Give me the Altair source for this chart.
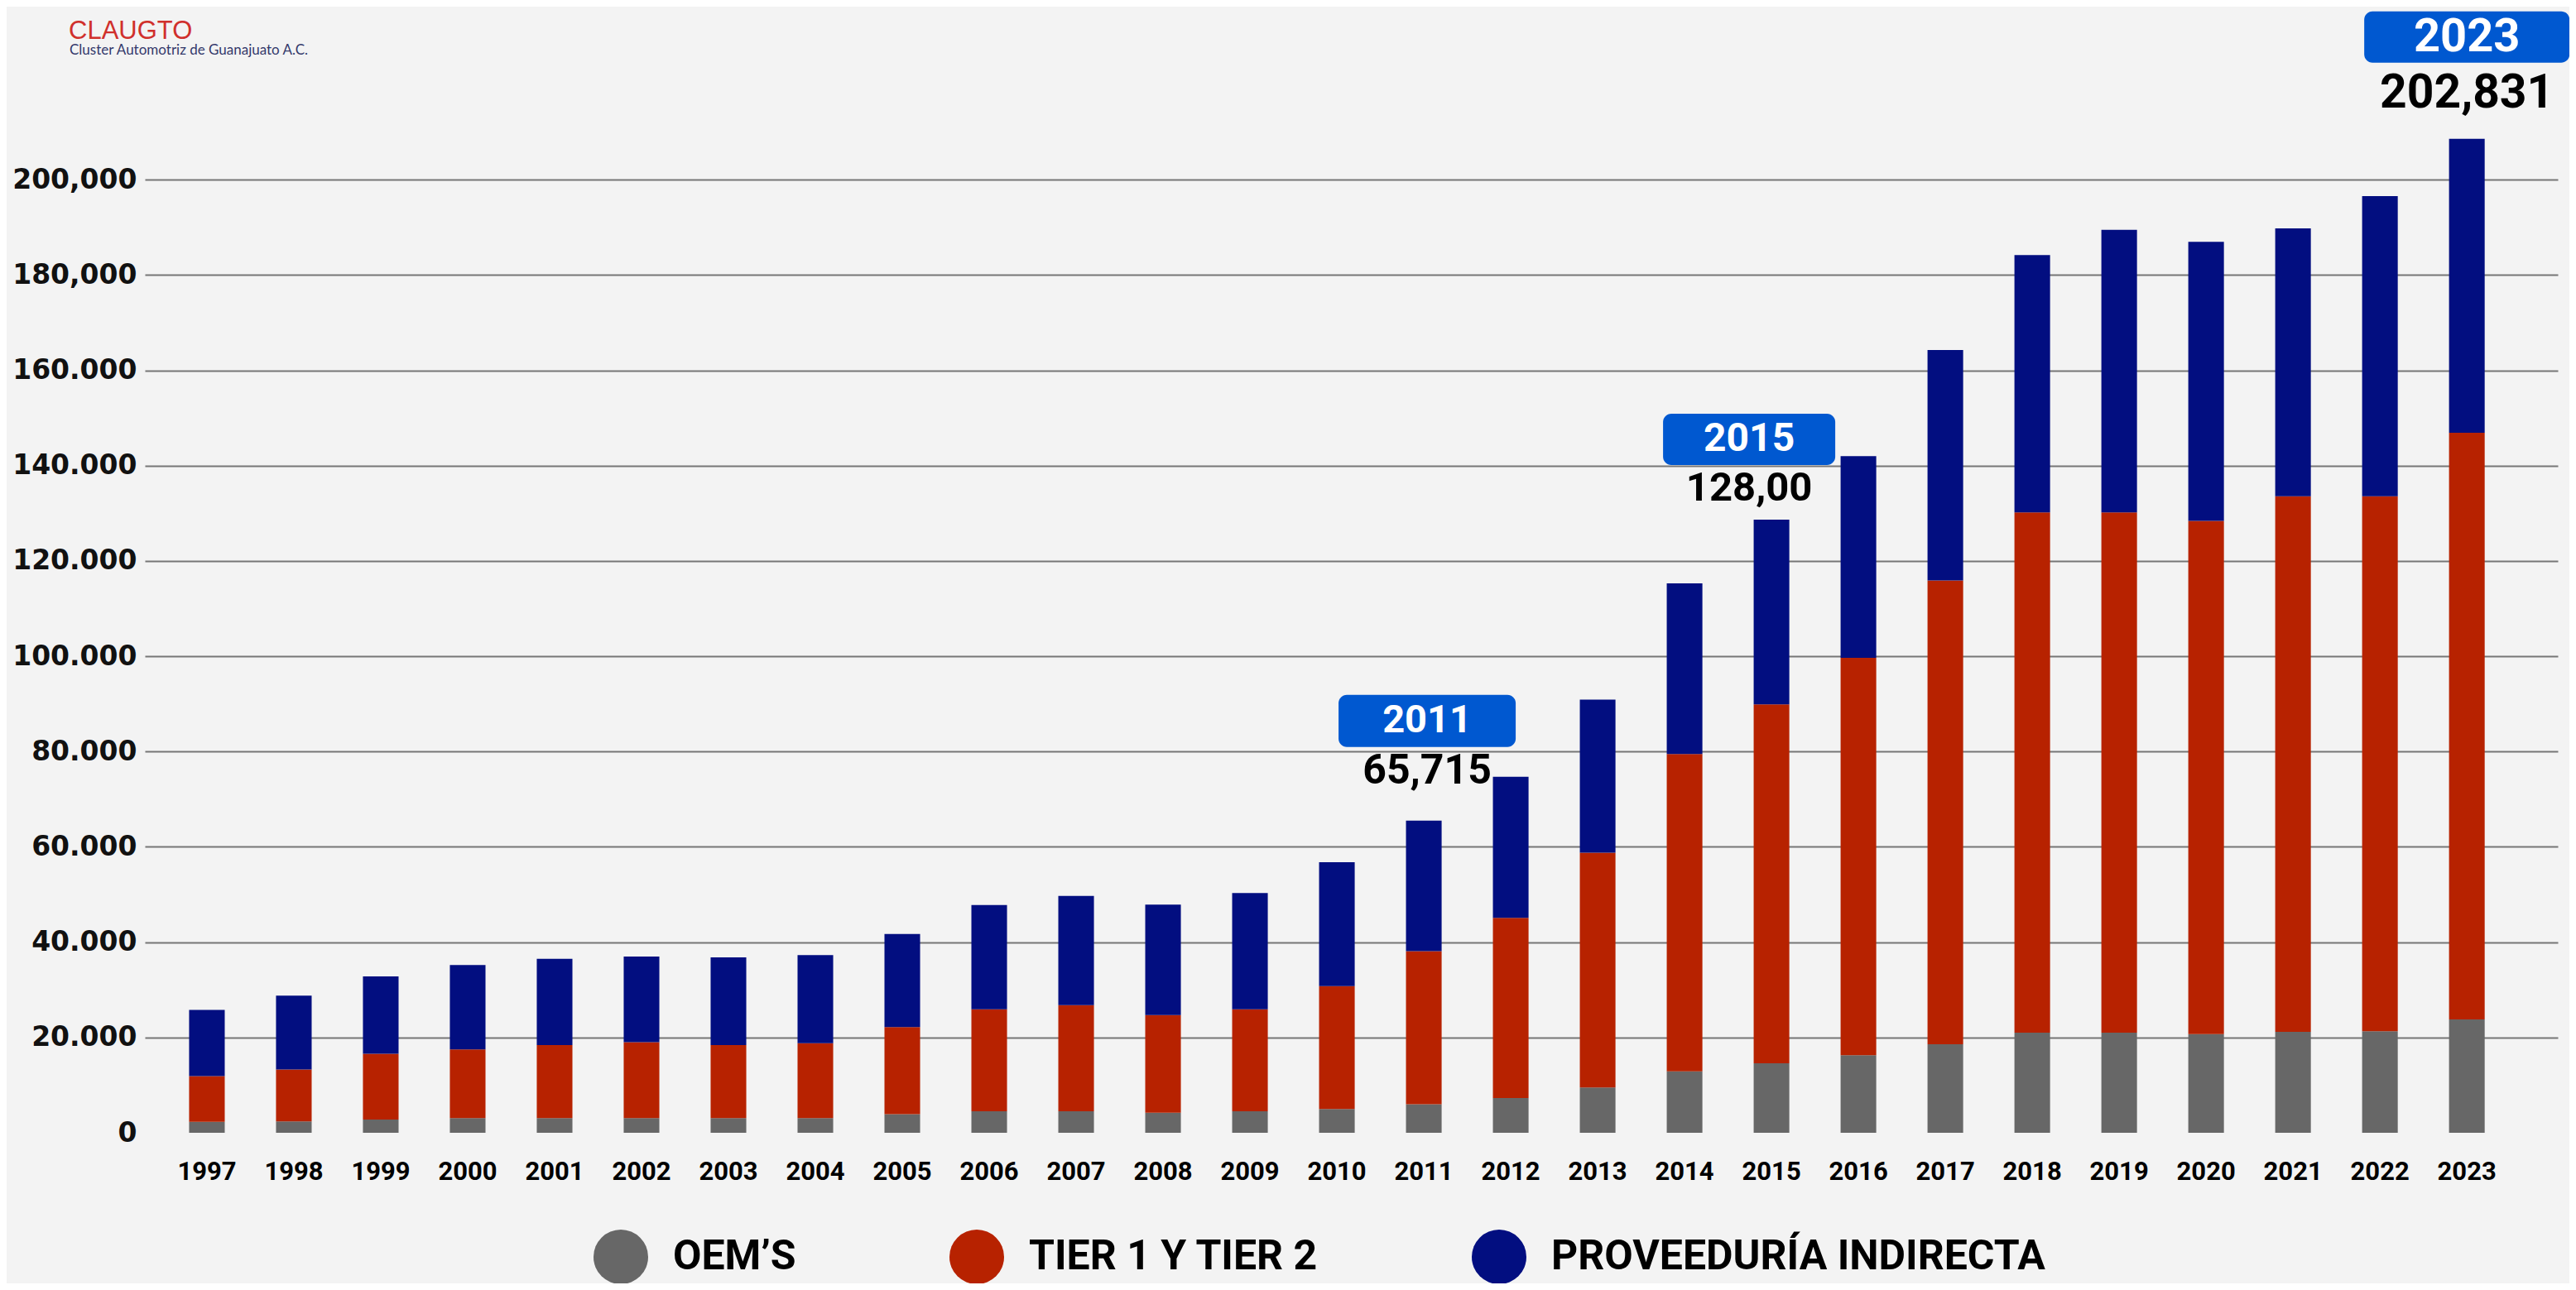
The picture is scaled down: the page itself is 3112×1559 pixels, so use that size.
import altair as alt
import pandas as pd

# ---------------- data ----------------
years = list(range(1997, 2024))

series_names = ["OEM’S", "TIER 1 Y TIER 2", "PROVEEDURÍA INDIRECTA"]

oem = [2300, 2400, 2800, 3100, 3100, 3100, 3100, 3100, 3900, 4500, 4500, 4200, 4500,
       5000, 6000, 7300, 9500, 12900, 14600, 16300, 18600, 21000, 21000, 20700, 21200,
       21300, 23800]
tier = [9600, 10900, 13800, 14400, 15300, 15900, 15300, 15700, 18300, 21400, 22300,
        20500, 21400, 25800, 32100, 37800, 49300, 66600, 75300, 83400, 97300, 109200,
        109200, 107700, 112400, 112300, 123100]
indirect = [13900, 15500, 16200, 17700, 18100, 18000, 18400, 18500, 19500, 21900, 22900,
            23200, 24400, 26000, 27400, 29600, 32100, 35800, 38800, 42300, 48400, 54000,
            59300, 58600, 56200, 63000, 61700]

y_ticks = [0, 20000, 40000, 60000, 80000, 100000, 120000, 140000, 160000, 180000, 200000]
y_tick_labels = ["0", "20.000", "40.000", "60.000", "80.000", "100.000", "120.000",
                 "140.000", "160.000", "180,000", "200,000"]

ann_years = [2011, 2015, 2023]
ann_badges = ["2011", "2015", "2023"]
ann_values = ["65,715", "128,00", "202,831"]

logo_title = ["CLAUGTO"]
logo_subtitle = ["Cluster Automotriz de Guanajuato A.C."]

# ---------------- styles ----------------
colors = ["#676767", "#B72200", "#020E80"]
badge_color = "#0058D0"
# per-annotation placement (pixels relative to the bar top / bar centre)
ann_dx = [4, -27, 0]
ann_badge_top = [-152, -128, -154]
ann_badge_bottom = [-89, -66, -92]
ann_value_dy = [-60, -38, -55]
ann_badge_width = [214, 208, 248]
ann_badge_font = [47, 48, 56]
ann_value_font = [50, 49, 57]

main_font = "Roboto"

# ---------------- tables ----------------
rows = []
for i, yr in enumerate(years):
    for k, vals in enumerate([oem, tier, indirect]):
        rows.append({"year": yr, "serie": series_names[k], "value": vals[i], "ord": k})
df = pd.DataFrame(rows)

totals = {yr: oem[i] + tier[i] + indirect[i] for i, yr in enumerate(years)}

label_expr = " : ".join(
    f"datum.value == {v} ? '{l}'" for v, l in zip(y_ticks, y_tick_labels)
) + " : ''"

x_scale = alt.Scale(domain=years, paddingInner=0.59, paddingOuter=0.675, align=0.377)
y_scale = alt.Scale(domain=[0, 236000], nice=False, zero=True)

x_axis = alt.Axis(
    title=None, labelAngle=0, domain=False, ticks=False, grid=False,
    labelFont=main_font, labelFontWeight="bold", labelFontSize=31,
    labelColor="#000000", labelPadding=32,
)
y_axis = alt.Axis(
    title=None, values=y_ticks, labelExpr=label_expr, domain=False, ticks=False,
    grid=True, gridColor="#767676", gridWidth=2,
    gridOpacity={"condition": {"test": "datum.value === 0", "value": 0}, "value": 1},
    labelFont="DejaVu Sans", labelFontWeight="bold", labelFontSize=33,
    labelColor="#111111", labelPadding=10,
)

bars = alt.Chart(df).mark_bar().encode(
    x=alt.X("year:O", scale=x_scale, axis=x_axis),
    y=alt.Y("value:Q", stack="zero", scale=y_scale, axis=y_axis),
    color=alt.Color(
        "serie:N",
        scale=alt.Scale(domain=series_names, range=colors),
        legend=alt.Legend(
            title=None, orient="none", legendX=542, legendY=1476,
            direction="horizontal", symbolType="circle", symbolSize=4356,
            symbolStrokeWidth=0, labelFont=main_font, labelFontSize=50,
            labelFontWeight="bold", labelColor="#000000", labelOffset=30,
            columnPadding=185, labelLimit=1000, padding=0,
        ),
    ),
    order=alt.Order("ord:Q", sort="ascending"),
)

layers = [bars]
for i, yr in enumerate(ann_years):
    one = pd.DataFrame({
        "year": [yr],
        "total": [totals[yr]],
        "badge": [ann_badges[i]],
        "label": [ann_values[i]],
    })
    layers.append(
        alt.Chart(one).mark_bar(
            cornerRadius=10, color=badge_color, size=ann_badge_width[i],
            xOffset=ann_dx[i], yOffset=ann_badge_top[i], y2Offset=ann_badge_bottom[i],
        ).encode(x=alt.X("year:O"), y=alt.Y("total:Q"), y2=alt.Y2("total"))
    )
    layers.append(
        alt.Chart(one).mark_text(
            font=main_font, fontWeight="bold", color="#ffffff", baseline="middle",
            align="center", fontSize=ann_badge_font[i], xOffset=ann_dx[i],
            yOffset=(ann_badge_top[i] + ann_badge_bottom[i]) / 2,
        ).encode(x=alt.X("year:O"), y=alt.Y("total:Q"), text="badge:N")
    )
    layers.append(
        alt.Chart(one).mark_text(
            font=main_font, fontWeight="bold", color="#000000", baseline="middle",
            align="center", fontSize=ann_value_font[i], xOffset=ann_dx[i],
            yOffset=ann_value_dy[i],
        ).encode(x=alt.X("year:O"), y=alt.Y("total:Q"), text="label:N")
    )

logo1 = alt.Chart(pd.DataFrame({"t": logo_title})).mark_text(
    align="left", baseline="alphabetic", font="Liberation Sans", fontSize=31,
    color="#D0302C",
).encode(x=alt.value(-92), y=alt.value(37), text="t:N")

logo2 = alt.Chart(pd.DataFrame({"t": logo_subtitle})).mark_text(
    align="left", baseline="alphabetic", font="Lato", fontSize=17,
    color="#33396B",
).encode(x=alt.value(-91), y=alt.value(56), text="t:N")

layers += [logo1, logo2]

chart = alt.layer(*layers).properties(
    width=2915,
    height=1359,
    autosize=alt.AutoSizeParams(type="none"),
    padding={"left": 167, "top": 2, "right": 14, "bottom": 182},
    background="#F3F3F3",
).configure_view(stroke=None)

chart.save("out.html", embed_options={"renderer": "svg", "actions": False})
